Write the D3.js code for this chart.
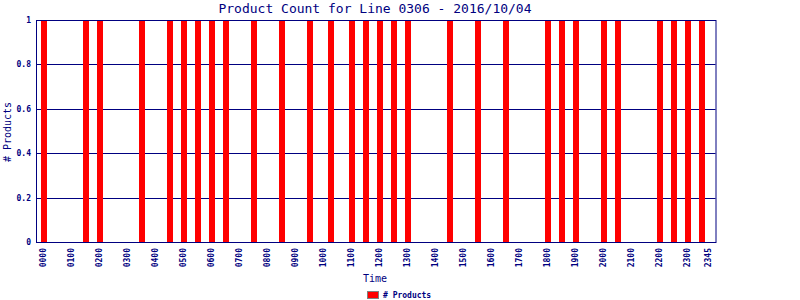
<!DOCTYPE html>
<html>
<head>
<meta charset="utf-8">
<script src="https://cdn.jsdelivr.net/npm/d3@7"></script>
<style>
    body { margin: 0; background: #fff; }
    text { font-family: "DejaVu Sans Mono", monospace; fill: #000080; }
</style>
</head>
<body>
<div id="chart"></div>
<script>
// data: 96 quarter-hour slots, 1 where a product was counted
let slots = d3.range(96).map(i => {
    let h = Math.floor(i / 4), m = (i % 4) * 15;
    return String(h).padStart(2, '0') + String(m).padStart(2, '0');
});
let activeSlots = ["0000", "0130", "0200", "0330", "0430", "0500", "0530", "0600", "0630",
    "0730", "0830", "0930", "1015", "1100", "1130", "1200", "1230", "1300", "1430", "1530",
    "1630", "1800", "1830", "1900", "2000", "2030", "2200", "2230", "2300", "2330"];
let counts = slots.map(s => activeSlots.includes(s) ? 1 : 0);
let tickLabels = ["0000", "0100", "0200", "0300", "0400", "0500", "0600", "0700", "0800", "0900",
    "1000", "1100", "1200", "1300", "1400", "1500", "1600", "1700", "1800", "1900", "2000",
    "2100", "2200", "2300", "2345"];
let yTicks = [0, 0.2, 0.4, 0.6, 0.8, 1];

let navy = "#000080";
let margin = {top: 20, right: 84.5, bottom: 58, left: 36};
let width = 800 - margin.left - margin.right;
let height = 300 - margin.top - margin.bottom;

let svg = d3.select("#chart").append("svg")
    .attr("width", 800)
    .attr("height", 300);

let g = svg.append("g")
    .attr("transform", `translate(${margin.left}, ${margin.top})`);

let x = d3.scalePoint()
    .domain(slots)
    .range([0, width])
    .padding(1);

let y = d3.scaleLinear()
    .domain([0, 1])
    .range([height, 0]);

// grid lines
g.append("g")
    .selectAll("line")
    .data(yTicks)
    .enter()
    .append("line")
    .attr("x1", 0)
    .attr("x2", width)
    .attr("y1", d => Math.round(y(d)) + 0.5)
    .attr("y2", d => Math.round(y(d)) + 0.5)
    .attr("stroke", navy)
    .attr("stroke-width", 1);

// bars
g.selectAll("rect.bar")
    .data(slots.map((s, i) => ({slot: s, value: counts[i]})).filter(d => d.value > 0))
    .enter()
    .append("rect")
    .attr("class", "bar")
    .attr("x", d => Math.round(x(d.slot) - 2))
    .attr("width", 6)
    .attr("y", d => y(d.value))
    .attr("height", d => height - y(d.value))
    .attr("fill", "#ff0000");

// frame
g.append("rect")
    .attr("x", 0.5)
    .attr("y", 0.5)
    .attr("width", width)
    .attr("height", height)
    .attr("fill", "none")
    .attr("stroke", navy);

// y axis labels
g.append("g")
    .selectAll("text")
    .data(yTicks)
    .enter()
    .append("text")
    .attr("x", -5)
    .attr("y", d => y(d) + 3)
    .attr("text-anchor", "end")
    .attr("font-size", "8px")
    .attr("font-weight", "bold")
    .text(d => d === 0 || d === 1 ? d : d.toFixed(1));

// x axis labels
g.append("g")
    .selectAll("text")
    .data(tickLabels)
    .enter()
    .append("text")
    .attr("transform", d => `translate(${x(d) + 3}, ${height + 6}) rotate(-90)`)
    .attr("text-anchor", "end")
    .attr("font-size", "8px")
    .attr("font-weight", "bold")
    .text(d => d);

// title
svg.append("text")
    .attr("x", 375)
    .attr("y", 13)
    .attr("text-anchor", "middle")
    .attr("font-size", "13px")
    .text("Product Count for Line 0306 - 2016/10/04");

// axis titles
svg.append("text")
    .attr("transform", "translate(11, 132) rotate(-90)")
    .attr("text-anchor", "middle")
    .attr("font-size", "10px")
    .text("# Products");

svg.append("text")
    .attr("x", 375)
    .attr("y", 282)
    .attr("text-anchor", "middle")
    .attr("font-size", "10px")
    .text("Time");

// legend
svg.append("rect")
    .attr("x", 367.5)
    .attr("y", 291.5)
    .attr("width", 11)
    .attr("height", 7)
    .attr("fill", "#ff0000")
    .attr("stroke", "#808080");

svg.append("text")
    .attr("x", 383)
    .attr("y", 298)
    .attr("font-size", "8px")
    .attr("font-weight", "bold")
    .text("# Products");
</script>
</body>
</html>
